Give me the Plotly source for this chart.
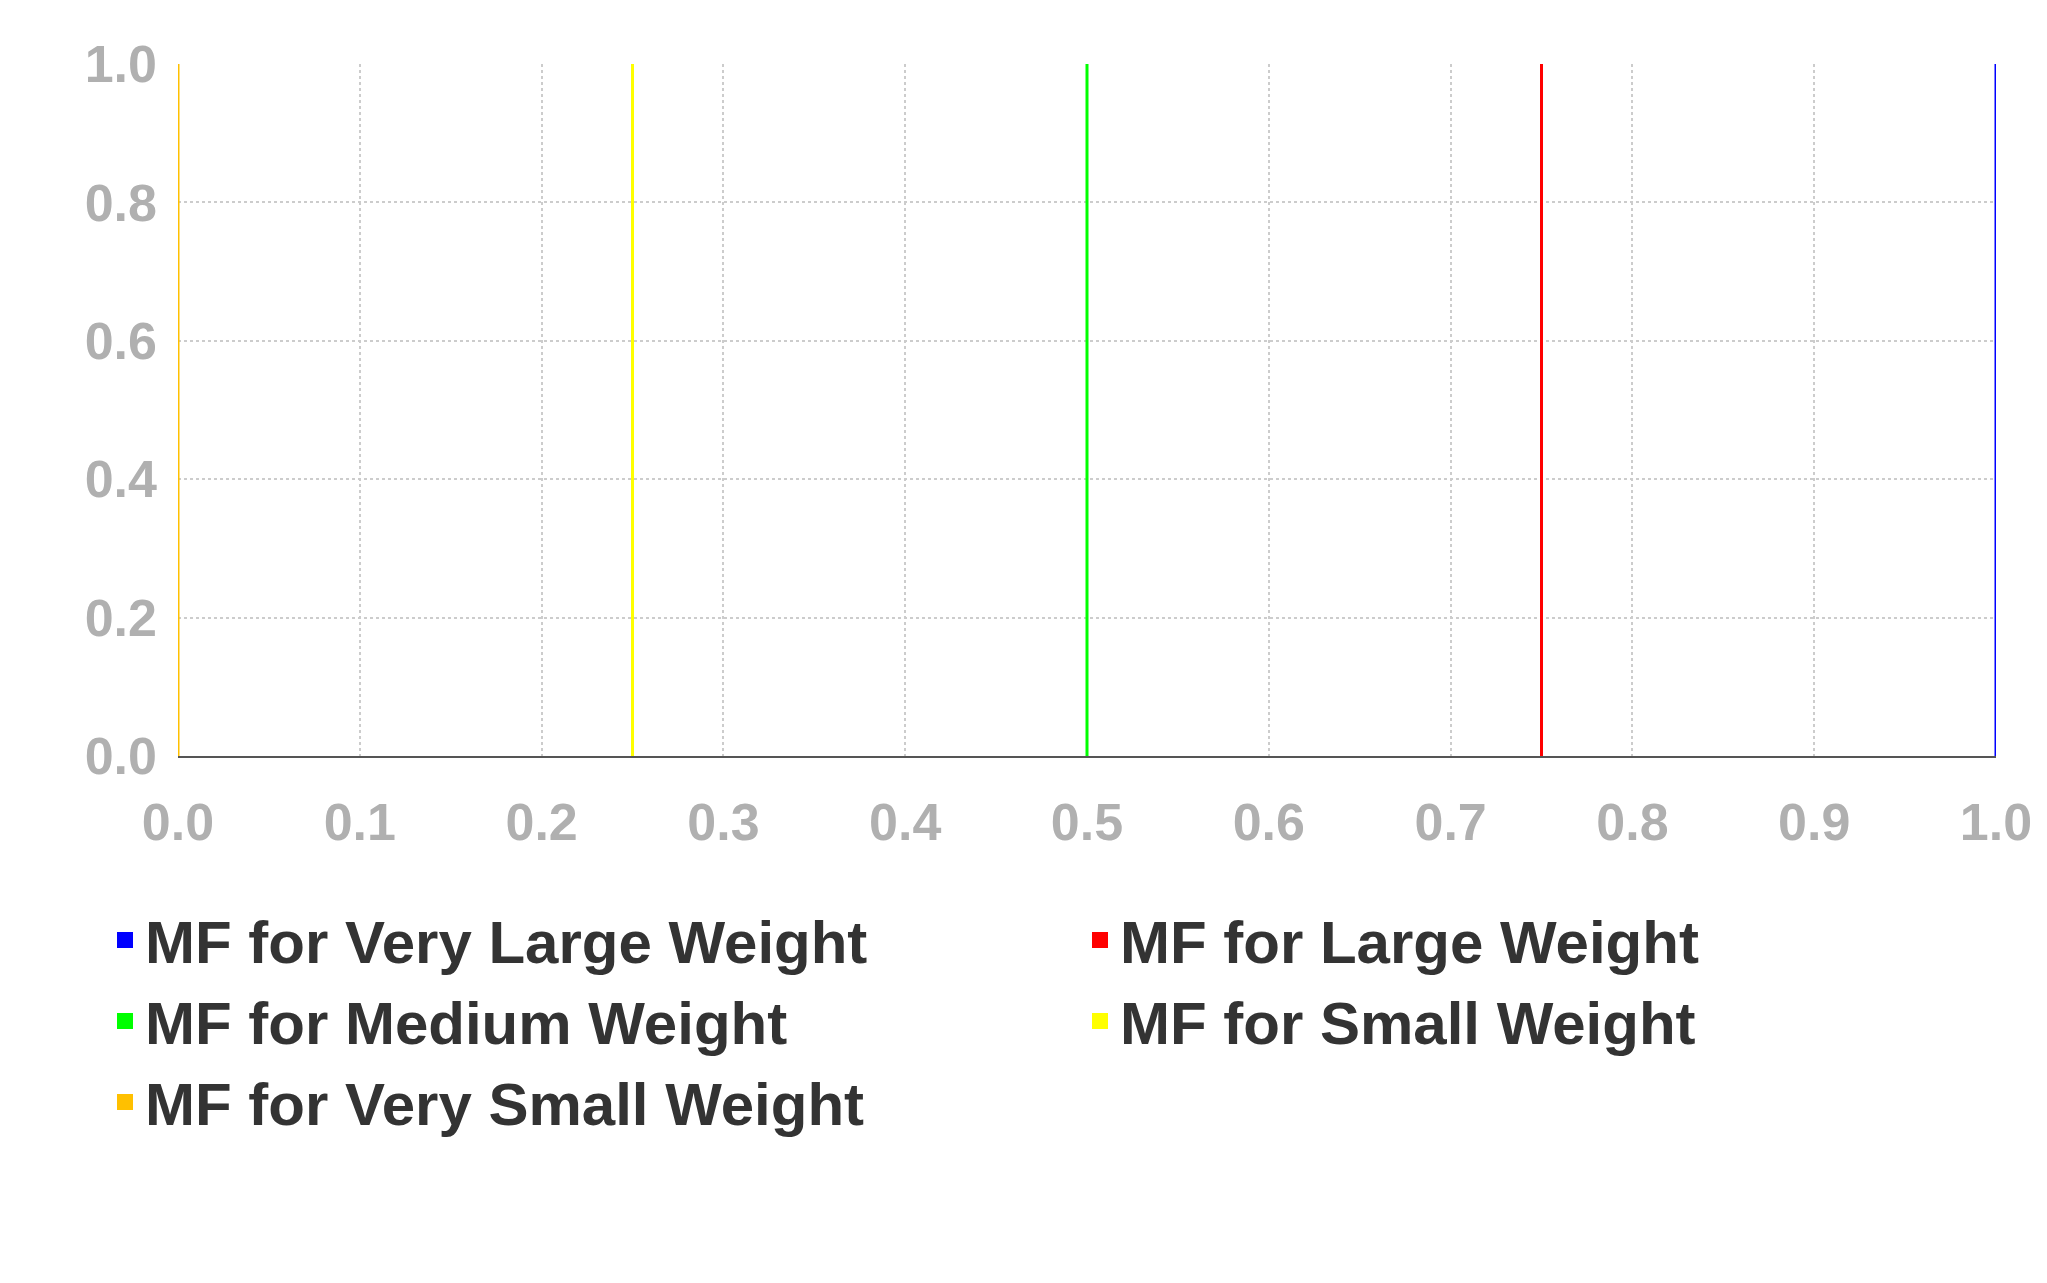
import plotly.graph_objects as go

names = ["MF for Very Large Weight", "MF for Large Weight", "MF for Medium Weight",
         "MF for Small Weight", "MF for Very Small Weight"]
centers = [1.0, 0.75, 0.5, 0.25, 0.0]
colors = ["#0000ff", "#ff0000", "#00ff00", "#ffff00", "#ffc000"]
heights = [1.0, 1.0, 1.0, 1.0, 1.0]

fig = go.Figure()

# singleton membership functions drawn as vertical lines
for n, c, col, h in zip(names, centers, colors, heights):
    fig.add_trace(go.Scatter(x=[c, c], y=[0, h], mode="lines",
                             line=dict(color=col, width=3), showlegend=False, hoverinfo="skip"))

# square swatches for the legend
for n, col in zip(names, colors):
    fig.add_trace(go.Scatter(x=[None], y=[None], name="<b>" + n + "</b>", mode="markers",
                             marker=dict(color=col, symbol="square", size=60)))

fig.update_layout(
    width=2047, height=1283,
    margin=dict(l=170, r=59, t=56, b=535),
    plot_bgcolor="white", paper_bgcolor="white",
    font=dict(family="Liberation Sans"),
    legend=dict(orientation="h", x=-0.02, xanchor="left", y=-0.2, yanchor="top",
                entrywidth=930, font=dict(size=60, color="#333333", family="Liberation Sans"),
                itemsizing="trace", traceorder="normal"),
)
fig.update_xaxes(range=[0, 1], dtick=0.1, tickformat=".1f",
                 showgrid=True, gridcolor="#cccccc", griddash="dot", gridwidth=2,
                 showline=True, linecolor="#555555", linewidth=2, zeroline=False,
                 tickfont=dict(size=52, color="#b0b0b0", weight="bold"), ticks="",
                 ticklabelstandoff=20)
fig.update_yaxes(range=[0, 1.0], dtick=0.2, tickformat=".1f",
                 showgrid=True, gridcolor="#cccccc", griddash="dot", gridwidth=2,
                 showline=False, zeroline=False,
                 tickfont=dict(size=52, color="#b0b0b0", weight="bold"), ticks="",
                 ticklabelstandoff=20)

fig.write_html("out.html")
